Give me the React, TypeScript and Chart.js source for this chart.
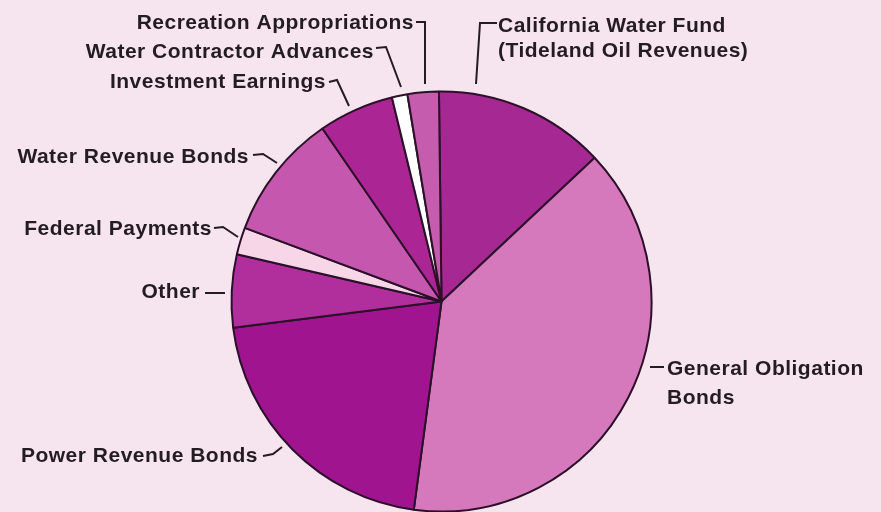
import React, { useEffect, useRef } from "react";
import { Chart, registerables } from "chart.js";

Chart.register(...registerables);

// ---- data ----
const categories = [
  "California Water Fund (Tideland Oil Revenues)",
  "General Obligation Bonds",
  "Power Revenue Bonds",
  "Other",
  "Federal Payments",
  "Water Revenue Bonds",
  "Investment Earnings",
  "Water Contractor Advances",
  "Recreation Appropriations",
];
const shares = [13.2, 39.1, 20.9, 5.6, 2.1, 9.7, 5.8, 1.2, 2.4];
const sliceColors = [
  "#a62892",
  "#d679bc",
  "#a0148f",
  "#b02f9c",
  "#f7d6e8",
  "#c558ae",
  "#ab2595",
  "#ffffff",
  "#c65cad",
];

// ---- label layout (annotation text + leader lines) ----
type LabelLayout = {
  lines: string[];
  x: number;
  y: number;
  gap: number;
  align: CanvasTextAlign;
  leader: [number, number][];
};
const labelLayout: LabelLayout[] = [
  { lines: ["California Water Fund", "(Tideland Oil Revenues)"], x: 498, y: 32, gap: 25, align: "left", leader: [[497, 23], [480, 23], [476, 84]] },
  { lines: ["General Obligation", "Bonds"], x: 667, y: 375, gap: 29, align: "left", leader: [[650, 367], [664, 367]] },
  { lines: ["Power Revenue Bonds"], x: 258, y: 462, gap: 0, align: "right", leader: [[263, 456], [273, 454], [282, 447]] },
  { lines: ["Other"], x: 200, y: 298, gap: 0, align: "right", leader: [[205, 293], [225, 293]] },
  { lines: ["Federal Payments"], x: 212, y: 235, gap: 0, align: "right", leader: [[214, 228], [223, 227], [238, 237]] },
  { lines: ["Water Revenue Bonds"], x: 249, y: 163, gap: 0, align: "right", leader: [[253, 155], [263, 154], [277, 163]] },
  { lines: ["Investment Earnings"], x: 326, y: 88, gap: 0, align: "right", leader: [[329, 82], [337, 80], [349, 106]] },
  { lines: ["Water Contractor Advances"], x: 374, y: 58, gap: 0, align: "right", leader: [[376, 48], [386, 47], [401, 87]] },
  { lines: ["Recreation Appropriations"], x: 414, y: 29, gap: 0, align: "right", leader: [[416, 22], [425, 22], [425, 84]] },
];

const labelPlugin = {
  id: "pieLabels",
  afterDraw(chart: any) {
    const ctx = chart.ctx as CanvasRenderingContext2D;
    ctx.save();
    ctx.fillStyle = "#231c21";
    ctx.strokeStyle = "#231c21";
    ctx.lineWidth = 2;
    ctx.lineJoin = "miter";
    ctx.font = "bold 21px 'Liberation Sans', Arial, sans-serif";
    (ctx as any).letterSpacing = "0.5px";
    ctx.textBaseline = "alphabetic";
    labelLayout.forEach((l) => {
      ctx.textAlign = l.align;
      l.lines.forEach((t, i) => ctx.fillText(t, l.x, l.y + i * l.gap));
      ctx.beginPath();
      l.leader.forEach(([px, py], i) => (i === 0 ? ctx.moveTo(px, py) : ctx.lineTo(px, py)));
      ctx.stroke();
    });
    ctx.restore();
  },
};

export default function App() {
  const ref = useRef<HTMLCanvasElement | null>(null);
  useEffect(() => {
    if (!ref.current) return;
    const chart = new Chart(ref.current, {
      type: "pie",
      data: {
        labels: categories,
        datasets: [
          {
            data: shares,
            backgroundColor: sliceColors,
            borderColor: "#2c1029",
            borderWidth: 2,
            rotation: -0.7,
            radius: 210,
          } as any,
        ],
      },
      options: {
        responsive: false,
        animation: false,
        events: [],
        layout: { padding: { left: 231, right: 229, top: 91, bottom: 0 } },
        plugins: { legend: { display: false }, tooltip: { enabled: false } },
      },
      plugins: [labelPlugin],
    });
    return () => chart.destroy();
  }, []);
  return (
    <div style={{ position: "fixed", left: 0, top: 0, width: 881, height: 512, background: "#f6e5ef" }}>
      <canvas ref={ref} width={881} height={512} style={{ display: "block" }} />
    </div>
  );
}
